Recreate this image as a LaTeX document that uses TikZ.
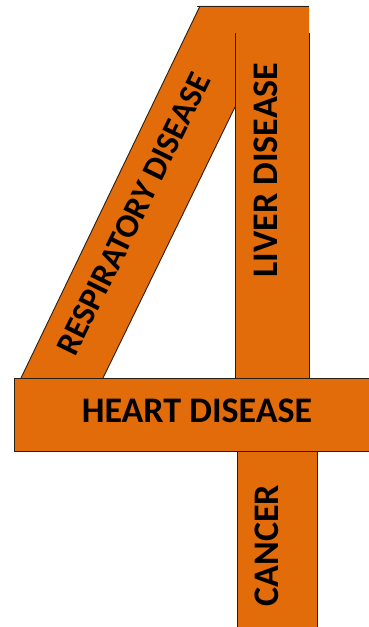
\documentclass[tikz,border=0pt]{standalone}
\usepackage{fontspec}
\setmainfont{Carlito}
\definecolor{barorange}{RGB}{227,108,10}
\definecolor{edgecol}{RGB}{40,30,20}
\begin{document}
\begin{tikzpicture}[x=1pt,y=1pt,
  edge/.style={draw=edgecol,line width=0.9pt},
  label/.style={inner sep=0pt,font=\bfseries\fontsize{36}{40}\selectfont,text=black}]
\useasboundingbox (0,0) rectangle (369,627);
\clip (0,0) rectangle (369,627);
% upper part: respiratory parallelogram + liver bar
\fill[barorange] (200,621) -- (309,621) -- (309,249) -- (235,249) -- (235,520) -- (103,249) -- (21,249) -- cycle;
\draw[edge] (197,621) -- (309,621);
\draw[edge] (200,621) -- (21,249);
\draw[edge] (103,249) -- (235,520);
\draw[edge] (235,594) -- (235,249);
\draw[edge] (309,594) -- (309,249);
% heart bar
\draw[edge,fill=barorange] (14,249) rectangle (375,176);
% cancer bar
\draw[edge,fill=barorange] (237,176) rectangle (317,-5);
% labels
\node[label] (heart) at (197,216) {HEART DISEASE};
\node[label,rotate=90] (liver) at (266,457) {LIVER DISEASE};
\node[label,rotate=90] (cancer) at (267,81.5) {CANCER};
\node[label,rotate=63.9,font=\bfseries\fontsize{33.5}{38}\selectfont] (resp) at (134,413) {RESPIRATORY DISEASE};
\end{tikzpicture}
\end{document}
